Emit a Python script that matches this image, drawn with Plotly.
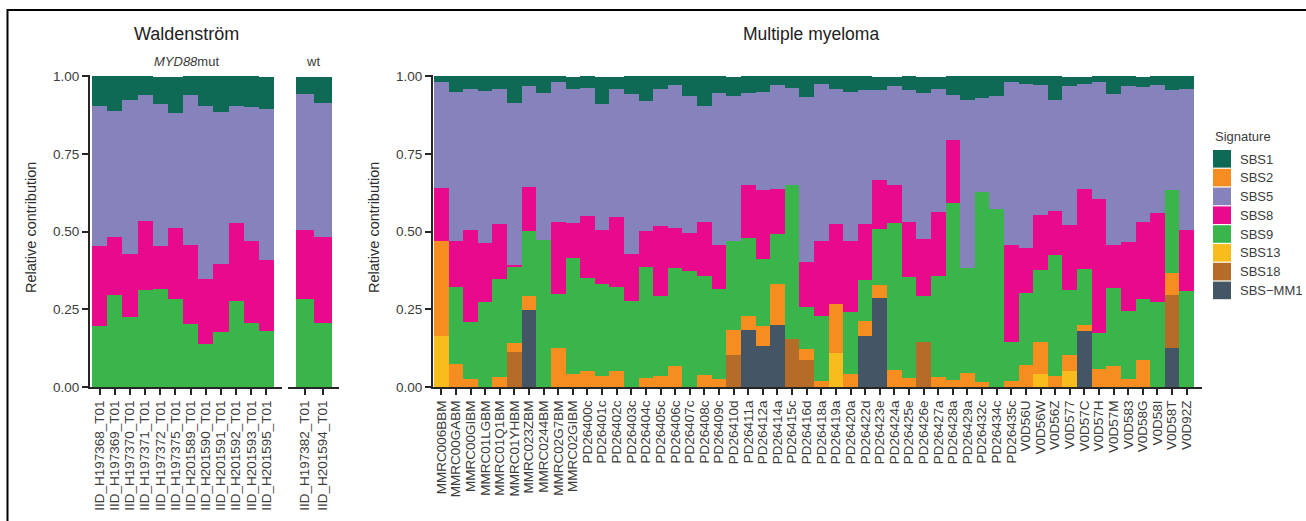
import plotly.graph_objects as go

W, H = 1306, 521

# ---------------- data ----------------
signatures = ["SBS1", "SBS2", "SBS5", "SBS8", "SBS9", "SBS13", "SBS18", "SBS-MM1"]
legend_labels = ["SBS1", "SBS2", "SBS5", "SBS8", "SBS9", "SBS13", "SBS18", "SBS\u2212MM1"]
sig_colors = ["#0e6a54", "#f68d20", "#8682bc", "#e8098d", "#3ab54b", "#f8bd1d", "#b46c28", "#445665"]

wm_mut_samples = ["IID_H197368_T01", "IID_H197369_T01", "IID_H197370_T01", "IID_H197371_T01",
                  "IID_H197372_T01", "IID_H197375_T01", "IID_H201589_T01", "IID_H201590_T01",
                  "IID_H201591_T01", "IID_H201592_T01", "IID_H201593_T01", "IID_H201595_T01"]
wm_mut_sbs9 = [0.197, 0.297, 0.226, 0.313, 0.316, 0.284, 0.203, 0.139, 0.178, 0.277, 0.207, 0.181]
wm_mut_sbs8 = [0.257, 0.186, 0.202, 0.221, 0.138, 0.228, 0.254, 0.209, 0.218, 0.251, 0.263, 0.228]
wm_mut_sbs5 = [0.450, 0.405, 0.495, 0.406, 0.457, 0.370, 0.483, 0.556, 0.488, 0.376, 0.430, 0.485]
wm_mut_sbs1 = [0.096, 0.112, 0.077, 0.060, 0.086, 0.115, 0.060, 0.096, 0.116, 0.096, 0.100, 0.103]

wm_wt_samples = ["IID_H197382_T01", "IID_H201594_T01"]
wm_wt_sbs9 = [0.284, 0.207]
wm_wt_sbs8 = [0.221, 0.276]
wm_wt_sbs5 = [0.437, 0.430]
wm_wt_sbs1 = [0.055, 0.084]

mm_samples = ["MMRC006BBM", "MMRC00GABM", "MMRC00GIBM", "MMRC01LGBM", "MMRC01Q1BM", "MMRC01YHBM",
              "MMRC023ZBM", "MMRC0244BM", "MMRC02G7BM", "MMRC02GIBM", "PD26400c", "PD26401c",
              "PD26402c", "PD26403c", "PD26404c", "PD26405c", "PD26406c", "PD26407c", "PD26408c",
              "PD26409c", "PD26410d", "PD26411a", "PD26412a", "PD26414a", "PD26415c", "PD26416d",
              "PD26418a", "PD26419a", "PD26420a", "PD26422d", "PD26423e", "PD26424a", "PD26425e",
              "PD26426e", "PD26427a", "PD26428a", "PD26429a", "PD26432c", "PD26434c", "PD26435c",
              "V0D56U", "V0D56W", "V0D56Z", "V0D577", "V0D57C", "V0D57H", "V0D57M", "V0D583",
              "V0D58G", "V0D58I", "V0D58T", "V0D92Z"]
mm_mm1 = [0, 0, 0, 0, 0, 0, 0.247, 0, 0, 0,
          0, 0, 0, 0, 0, 0, 0, 0, 0, 0,
          0, 0.182, 0.133, 0.201, 0, 0, 0, 0, 0, 0.163,
          0.285, 0, 0, 0, 0, 0, 0, 0, 0, 0,
          0, 0, 0, 0, 0.179, 0, 0, 0, 0, 0,
          0.124, 0]
mm_sbs18 = [0, 0, 0, 0, 0, 0.114, 0, 0, 0, 0,
            0, 0, 0, 0, 0, 0, 0, 0, 0, 0,
            0.104, 0, 0, 0, 0.156, 0.088, 0, 0, 0, 0,
            0, 0, 0, 0.146, 0, 0, 0, 0, 0, 0,
            0, 0, 0, 0, 0, 0, 0, 0, 0, 0,
            0.171, 0]
mm_sbs13 = [0.163, 0, 0, 0, 0, 0, 0, 0, 0, 0,
            0, 0, 0, 0, 0, 0, 0, 0, 0, 0,
            0, 0, 0, 0, 0, 0, 0, 0.108, 0, 0,
            0, 0, 0, 0, 0, 0, 0, 0, 0, 0,
            0, 0.043, 0, 0.050, 0, 0, 0, 0, 0, 0,
            0, 0]
mm_sbs2 = [0.306, 0.075, 0.027, 0, 0.033, 0.029, 0.045, 0, 0.124, 0.043,
           0.050, 0.037, 0.050, 0, 0.030, 0.037, 0.069, 0, 0.040, 0.027,
           0.078, 0.045, 0.062, 0.129, 0, 0.033, 0.020, 0.158, 0.043, 0.048,
           0.042, 0.056, 0.030, 0, 0.033, 0.024, 0.046, 0.017, 0, 0.020,
           0.072, 0.103, 0.037, 0.054, 0.022, 0.059, 0.066, 0.027, 0.088, 0,
           0.071, 0]
mm_sbs9 = [0, 0.246, 0.181, 0.272, 0.314, 0.246, 0.210, 0.473, 0.174, 0.371,
           0.300, 0.293, 0.271, 0.276, 0.355, 0.255, 0.313, 0.372, 0.316, 0.287,
           0.287, 0.252, 0.216, 0.162, 0.494, 0.138, 0.210, 0, 0.197, 0.132,
           0.181, 0.471, 0.323, 0.146, 0.323, 0.568, 0.336, 0.611, 0.573, 0.126,
           0.229, 0.230, 0.387, 0.207, 0.178, 0.116, 0.252, 0.216, 0.194, 0.272,
           0.268, 0.308]
mm_sbs8 = [0.171, 0.148, 0.297, 0.191, 0.177, 0.003, 0.142, 0, 0.233, 0.113,
           0.200, 0.175, 0.226, 0.151, 0.117, 0.226, 0.129, 0.123, 0.175, 0.142,
           0, 0.171, 0.223, 0.145, 0, 0.142, 0.239, 0.258, 0.229, 0.181,
           0.158, 0.123, 0.178, 0.184, 0.207, 0.203, 0, 0, 0, 0.310,
           0.146, 0.177, 0.142, 0.210, 0.258, 0.430, 0.138, 0.223, 0.249, 0.288,
           0, 0.197]
mm_sbs5 = [0.343, 0.481, 0.455, 0.491, 0.436, 0.523, 0.326, 0.474, 0.452, 0.433,
           0.413, 0.407, 0.413, 0.517, 0.419, 0.442, 0.462, 0.443, 0.374, 0.491,
           0.469, 0.297, 0.316, 0.336, 0.313, 0.533, 0.507, 0.436, 0.481, 0.433,
           0.291, 0.320, 0.426, 0.471, 0.397, 0.146, 0.543, 0.303, 0.365, 0.524,
           0.529, 0.420, 0.359, 0.449, 0.339, 0.375, 0.488, 0.504, 0.436, 0.413,
           0.323, 0.455]
mm_sbs1 = [0.017, 0.050, 0.040, 0.046, 0.040, 0.085, 0.030, 0.053, 0.017, 0.037,
           0.037, 0.085, 0.037, 0.056, 0.079, 0.040, 0.027, 0.062, 0.095, 0.053,
           0.059, 0.053, 0.050, 0.027, 0.037, 0.066, 0.024, 0.040, 0.050, 0.043,
           0.040, 0.027, 0.043, 0.050, 0.037, 0.059, 0.075, 0.069, 0.062, 0.020,
           0.024, 0.027, 0.075, 0.027, 0.021, 0.020, 0.056, 0.030, 0.030, 0.027,
           0.043, 0.040]

y_ticks = [0, 0.25, 0.5, 0.75, 1.0]
y_ticktext = ["0.00", "0.25", "0.50", "0.75", "1.00"]

# ---------------- layout helpers ----------------
def px_x(p):
    return p / W

def px_y(p):
    return 1 - p / H

FONT = "Liberation Sans, Arial, Helvetica, sans-serif"
AX_COL = "#262626"
TXT_COL = "#3b3b3b"
col = dict(zip(signatures, sig_colors))

fig = go.Figure()

def add_stack(xaxis, yaxis, samples, stacks):
    # stacks listed bottom -> top
    for sig, vals in stacks:
        fig.add_trace(go.Bar(
            x=samples, y=vals, name=sig, marker=dict(color=col[sig], line=dict(width=0)),
            xaxis=xaxis, yaxis=yaxis, showlegend=False,
        ))

add_stack("x", "y", wm_mut_samples, [("SBS9", wm_mut_sbs9), ("SBS8", wm_mut_sbs8),
                                     ("SBS5", wm_mut_sbs5), ("SBS1", wm_mut_sbs1)])
add_stack("x2", "y2", wm_wt_samples, [("SBS9", wm_wt_sbs9), ("SBS8", wm_wt_sbs8),
                                      ("SBS5", wm_wt_sbs5), ("SBS1", wm_wt_sbs1)])
add_stack("x3", "y3", mm_samples, [("SBS-MM1", mm_mm1), ("SBS18", mm_sbs18), ("SBS13", mm_sbs13),
                                   ("SBS2", mm_sbs2), ("SBS9", mm_sbs9), ("SBS8", mm_sbs8),
                                   ("SBS5", mm_sbs5), ("SBS1", mm_sbs1)])

ydom = [px_y(387), px_y(75)]
yrange = [0, 1.004]

def xaxis_def(dom, rng, anchor, cats):
    return dict(domain=dom, range=rng, anchor=anchor, type="category",
                tickmode="array", tickvals=cats, ticktext=cats,
                showline=True, linecolor=AX_COL, linewidth=2,
                ticks="outside", ticklen=6, tickwidth=2, tickcolor=AX_COL,
                tickangle=-90, tickfont=dict(family=FONT, size=13.5, color=TXT_COL),
                showgrid=False, zeroline=False, fixedrange=True, automargin=False)

ycommon = dict(range=yrange, domain=ydom, showgrid=False, zeroline=False,
               tickmode="array", tickvals=y_ticks, ticktext=y_ticktext,
               fixedrange=True, automargin=False)
yshown = dict(showline=True, linecolor=AX_COL, linewidth=2, ticks="outside",
              ticklen=6, tickwidth=2, tickcolor=AX_COL,
              tickfont=dict(family=FONT, size=13.5, color=TXT_COL))

fig.update_layout(
    width=W, height=H,
    margin=dict(l=0, r=0, t=0, b=0),
    paper_bgcolor="white", plot_bgcolor="white",
    barmode="stack", bargap=0,
    showlegend=False,
    font=dict(family=FONT, color=TXT_COL),
    xaxis=xaxis_def([px_x(90), px_x(282)], [-0.632, 12.024], "y", wm_mut_samples),
    xaxis2=xaxis_def([px_x(288), px_x(339)], [-0.944, 1.889], "y2", wm_wt_samples),
    xaxis3=xaxis_def([px_x(433), px_x(1202)], [-0.568, 52.05], "y3", mm_samples),
    yaxis=dict(anchor="x", **yshown, **ycommon),
    yaxis2=dict(anchor="x2", showline=False, showticklabels=False, ticks="", **ycommon),
    yaxis3=dict(anchor="x3", **yshown, **ycommon),
)

annotations = []
def txt(x, y, s, size, color=TXT_COL, angle=0, xanchor="center", yanchor="middle"):
    annotations.append(dict(x=px_x(x), y=px_y(y), xref="paper", yref="paper", text=s,
                            showarrow=False, textangle=angle, xanchor=xanchor, yanchor=yanchor,
                            font=dict(family=FONT, size=size, color=color)))

txt(186, 34, "Waldenstr\u00f6m", 18, color="#222222")
txt(811, 34, "Multiple myeloma", 17.5, color="#222222")
txt(186, 62, "<i>MYD88</i>mut", 13)
txt(313, 62, "wt", 13)
txt(31, 228, "Relative contribution", 14.5, color="#2e2e2e", angle=-90)
txt(374, 228, "Relative contribution", 14.5, color="#2e2e2e", angle=-90)

# legend (built from shapes and text)
shapes = []
txt(1213, 137, "Signature", 13, xanchor="left")
for i, (lab, c) in enumerate(zip(legend_labels, sig_colors)):
    top = 150 + 18.8 * i
    shapes.append(dict(type="rect", xref="paper", yref="paper",
                       x0=px_x(1213), x1=px_x(1231), y0=px_y(top + 17.6), y1=px_y(top),
                       fillcolor=c, line=dict(width=0)))
    txt(1238, top + 9, lab, 13, xanchor="left")

# outer frame (left and top edges visible)
shapes.append(dict(type="rect", xref="paper", yref="paper",
                   x0=px_x(7.5), x1=1.05, y0=-0.05, y1=px_y(10),
                   line=dict(color="black", width=2), fillcolor="rgba(0,0,0,0)"))

fig.update_layout(annotations=annotations, shapes=shapes)
fig.write_html("out.html")
